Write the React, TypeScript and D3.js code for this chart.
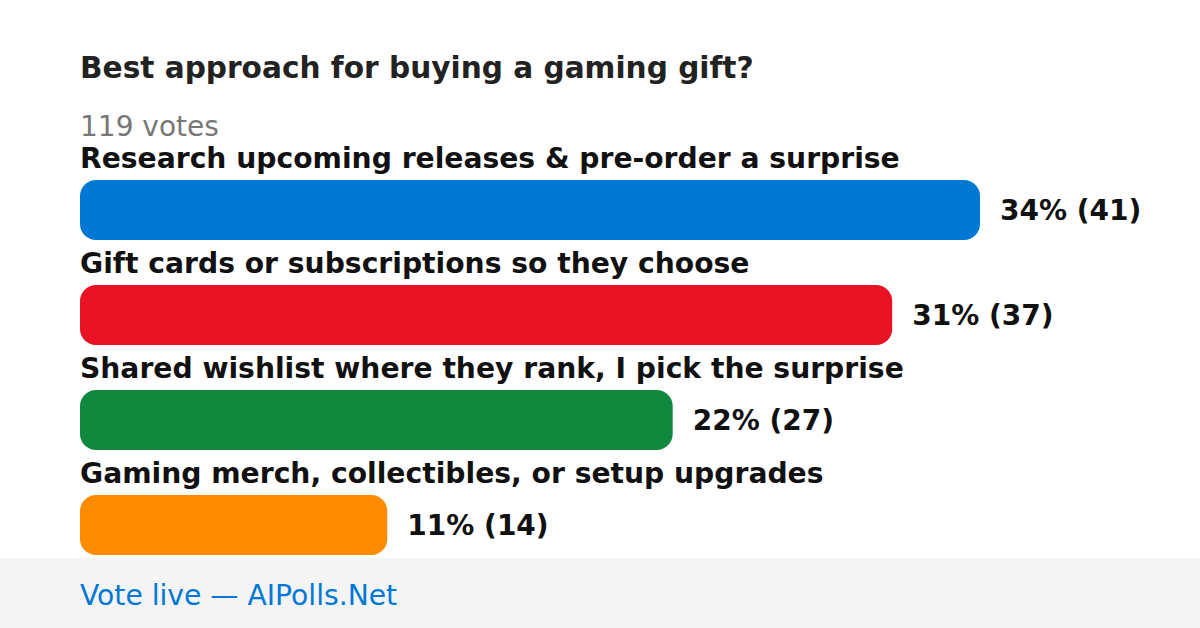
import React from "react";
import * as d3 from "d3";

const title = "Best approach for buying a gaming gift?";
const totalVotes = 119;
const categories = [
  "Research upcoming releases & pre-order a surprise",
  "Gift cards or subscriptions so they choose",
  "Shared wishlist where they rank, I pick the surprise",
  "Gaming merch, collectibles, or setup upgrades",
];
const votes = [41, 37, 27, 14];
const percents = [34, 31, 22, 11];
const colors = ["#0078d4", "#e81224", "#10893e", "#ff8c00"];
const footerText = "Vote live — AIPolls.Net";

export default function App() {
  const W = 1200;
  const H = 628;
  const font = "'DejaVu Sans', sans-serif";
  const x = d3.scaleLinear().domain([0, d3.max(votes)!]).range([80, 980]);
  const y = d3
    .scaleBand<number>()
    .domain(d3.range(categories.length))
    .range([180, 600])
    .paddingInner(0);
  return (
    <svg
      width={W}
      height={H}
      style={{ position: "absolute", left: 0, top: 0 }}
      fontFamily={font}
    >
      <rect x={0} y={0} width={W} height={H} fill="#ffffff" />
      <text x={80} y={78} fontSize={29.6} fontWeight="bold" fill="#222">
        {title}
      </text>
      <text x={80} y={136} fontSize={28} fill="#777">
        {totalVotes} votes
      </text>
      {categories.map((c, i) => {
        const top = y(i)!;
        return (
          <g key={c}>
            <text x={80} y={top - 12} fontSize={28.2} fontWeight="bold" fill="#111">
              {c}
            </text>
            <rect
              x={x(0)}
              y={top}
              width={x(votes[i]) - x(0)}
              height={60}
              rx={16}
              ry={16}
              fill={colors[i]}
            />
            <text
              x={x(votes[i]) + 20}
              y={top + 40}
              fontSize={28}
              fontWeight="bold"
              fill="#111"
            >
              {`${percents[i]}% (${votes[i]})`}
            </text>
          </g>
        );
      })}
      <rect x={0} y={558} width={W} height={70} fill="#f4f4f4" />
      <text x={80} y={605} fontSize={28.2} fill="#0078d4">
        {footerText}
      </text>
    </svg>
  );
}
